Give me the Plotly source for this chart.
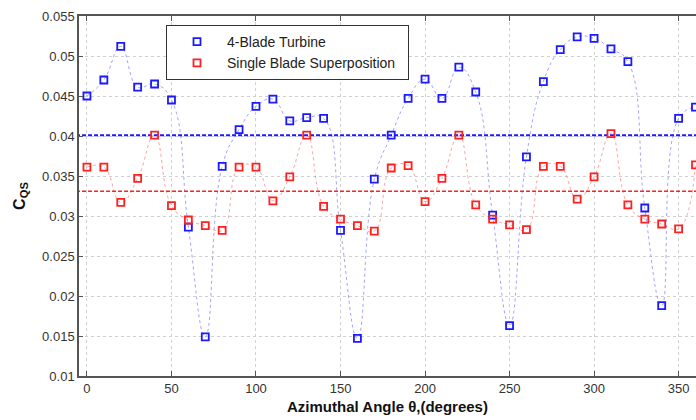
import plotly.graph_objects as go

angles = list(range(0, 361, 10))
blade4 = [0.0450, 0.0470, 0.0512, 0.0461, 0.0465, 0.0445, 0.0286, 0.0149, 0.0362, 0.0408,
          0.0437, 0.0446, 0.0419, 0.0423, 0.0422, 0.0282, 0.0147, 0.0346, 0.0401, 0.0447,
          0.0471, 0.0447, 0.0486, 0.0455, 0.0301, 0.0163, 0.0374, 0.0468, 0.0508, 0.0524,
          0.0522, 0.0509, 0.0493, 0.0310, 0.0188, 0.0422, 0.0436]
single = [0.0361, 0.0361, 0.0317, 0.0347, 0.0401, 0.0313, 0.0295, 0.0288, 0.0282, 0.0361,
          0.0361, 0.0319, 0.0349, 0.0401, 0.0312, 0.0296, 0.0288, 0.0281, 0.0360, 0.0363,
          0.0318, 0.0347, 0.0401, 0.0314, 0.0296, 0.0289, 0.0283, 0.0362, 0.0362, 0.0321,
          0.0349, 0.0403, 0.0314, 0.0296, 0.0290, 0.0284, 0.0364]
mean_blade4 = 0.0401
mean_single = 0.0331
mean_x = [-10, 370]

BLUE = "#1a1aff"
RED = "#ff2020"

fig = go.Figure()
fig.add_trace(go.Scatter(x=angles, y=blade4, mode="lines", line=dict(shape="spline", smoothing=1.3,
                         color="rgba(100,100,255,0.6)", width=1, dash="dot"), showlegend=False, hoverinfo="skip"))
fig.add_trace(go.Scatter(x=angles, y=single, mode="lines", line=dict(shape="spline", smoothing=1.3,
                         color="rgba(255,100,100,0.6)", width=1, dash="dot"), showlegend=False, hoverinfo="skip"))
fig.add_trace(go.Scatter(x=mean_x, y=[mean_blade4]*2, mode="lines",
                         line=dict(color=BLUE, width=2, dash="4px,2px"), showlegend=False))
fig.add_trace(go.Scatter(x=mean_x, y=[mean_single]*2, mode="lines",
                         line=dict(color=RED, width=1.6, dash="4px,2px"), showlegend=False))
fig.add_trace(go.Scatter(x=angles, y=blade4, mode="markers", name="4-Blade Turbine\u00a0\u00a0\u00a0\u00a0",
                         marker=dict(symbol="square-open", size=7, color=BLUE, line=dict(width=1.8, color=BLUE))))
fig.add_trace(go.Scatter(x=angles, y=single, mode="markers", name="Single Blade Superposition\u00a0\u00a0",
                         marker=dict(symbol="square-open", size=7, color=RED, line=dict(width=1.8, color=RED))))

fig.update_layout(
    width=696, height=420,
    margin=dict(l=79, r=0, t=16, b=44),
    paper_bgcolor="white", plot_bgcolor="white",
    font=dict(family="Liberation Sans, Arial, sans-serif", size=13, color="#333"),
    legend=dict(x=0.141, y=0.975, xanchor="left", yanchor="top", bgcolor="white",
                bordercolor="#333", borderwidth=1, font=dict(size=14, color="#222"),
                itemwidth=50, tracegroupgap=0),
    xaxis=dict(range=[-4.7, 360.3], tickmode="array", tickvals=[0, 50, 100, 150, 200, 250, 300, 350],
               showgrid=True, gridcolor="#d0d0d0", griddash="dot", gridwidth=1,
               showline=True, linecolor="#555", linewidth=1.5, mirror="ticks",
               ticks="inside", ticklen=5, tickcolor="#555", zeroline=False,
               title=dict(text="<b>Azimuthal Angle θ,(degrees)</b>", font=dict(size=15, color="#111"), standoff=6)),
    yaxis=dict(range=[0.01, 0.055], tickmode="array",
               tickvals=[0.01, 0.015, 0.02, 0.025, 0.03, 0.035, 0.04, 0.045, 0.05, 0.055],
               ticktext=["0.01", "0.015", "0.02", "0.025", "0.03", "0.035", "0.04", "0.045", "0.05", "0.055"],
               showgrid=True, gridcolor="#d0d0d0", griddash="dot", gridwidth=1,
               showline=True, linecolor="#555", linewidth=1.5, mirror=False,
               ticks="inside", ticklen=4, tickcolor="#555", zeroline=False,
               title=dict(text="<b>C<sub>QS</sub></b>", font=dict(size=16, color="#111"), standoff=13)),
)

fig.write_html("out.html")
